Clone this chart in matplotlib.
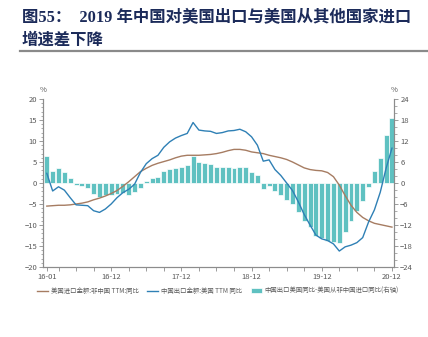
import matplotlib
matplotlib.use("Agg")
import matplotlib.pyplot as plt
import numpy as np

plt.rcParams['font.family'] = ['Noto Sans CJK SC', 'DejaVu Sans']

# monthly labels 16-01 .. 20-12
months = [f"{y % 100:02d}-{m:02d}" for y in range(2016, 2021) for m in range(1, 13)]
tick_labels = ["16-01", "16-12", "17-12", "18-12", "19-12", "20-12"]

# 美国进口金额:非中国 TTM:同比 (left axis, %)
us_import_ex_china = [
    -5.5, -5.4, -5.3, -5.3, -5.2, -5.0, -4.8, -4.5, -4.0, -3.6, -3.1, -2.5,
    -1.8, -0.8, 0.3, 1.5, 2.7, 3.5, 4.2, 4.7, 5.1, 5.5, 6.0, 6.4,
    6.6, 6.6, 6.6, 6.7, 6.8, 7.0, 7.3, 7.7, 8.0, 8.0, 7.8, 7.4,
    7.2, 7.0, 6.6, 6.3, 6.0, 5.6, 5.0, 4.3, 3.6, 3.2, 3.0, 2.9,
    2.5, 1.5, -0.5, -3.0, -5.3, -7.0, -8.2, -9.0, -9.6, -9.9, -10.2, -10.5,
]

# 中国出口金额:美国 TTM 同比 (left axis, %)
china_export_us = [
    2.3, -1.9, -0.9, -1.7, -3.5, -5.2, -5.3, -5.4, -6.6, -7.0, -6.2, -5.0,
    -3.5, -2.3, -1.5, -0.3, 2.5, 4.6, 5.8, 6.6, 8.5, 9.8, 10.7, 11.3,
    11.8, 14.4, 12.6, 12.4, 12.3, 11.8, 12.0, 12.4, 12.5, 12.8, 12.2, 11.0,
    9.0, 5.2, 5.5, 3.2, 1.8, 0.0, -1.8, -4.5, -7.5, -10.0, -12.4, -13.3,
    -13.7, -14.5, -16.2, -15.2, -14.8, -14.2, -13.0, -9.3, -6.4, -2.2, 3.5, 8.3,
]

# 中国出口美国同比-美国从非中国进口同比 (right axis, %)
growth_gap = [
    7.6, 3.3, 4.4, 3.2, 1.3, -0.7, -0.9, -1.3, -3.2, -3.9, -3.4, -3.4,
    -3.2, -2.9, -3.3, -2.6, -1.3, 0.7, 1.3, 1.7, 3.4, 4.1, 4.4, 4.6,
    5.1, 7.7, 5.9, 5.6, 5.4, 4.5, 4.5, 4.5, 4.4, 4.6, 4.5, 3.2,
    2.2, -1.8, -0.9, -2.2, -3.4, -4.8, -6.0, -8.4, -10.8, -12.7, -15.1, -15.8,
    -16.5, -16.8, -17.2, -14.1, -10.9, -7.9, -5.0, -1.0, 3.4, 7.2, 13.7, 18.5,
]

x = np.arange(1, len(months) + 1)
grey = '#595959'
spine_grey = '#8c8c8c'

fig = plt.figure(figsize=(4.28, 3.37), dpi=100)

# title
title_font = ['Liberation Serif', 'Noto Sans CJK SC']
fig.text(22 / 428, 1 - 17 / 337, '图55：  2019 年中国对美国出口与美国从其他国家进口',
         family=title_font, fontsize=11.8, fontweight='bold', color='#1c2b5a', va='center')
fig.text(22 / 428, 1 - 41 / 337, '增速差下降',
         family=title_font, fontsize=11.8, fontweight='bold', color='#1c2b5a', va='center')
fig.add_artist(plt.Line2D([20 / 428, 1], [1 - 51 / 337] * 2, color='#8a8a8a', lw=1.6))

ax = fig.add_axes([43.3 / 428, 1 - 267 / 337, (394 - 43.3) / 428, 168 / 337])
ax2 = ax.twinx()

bars = ax2.bar(x, growth_gap, width=0.85, color='#5fc1c1', edgecolor='white', linewidth=0.5,
               label='中国出口美国同比-美国从非中国进口同比(右轴)')
l1, = ax.plot(x, us_import_ex_china, color='#a67c62', lw=1.0, label='美国进口金额:非中国 TTM:同比')
l2, = ax.plot(x, china_export_us, color='#2f80b5', lw=1.0, label='中国出口金额:美国 TTM 同比')

ax.set_zorder(ax2.get_zorder() + 1)
ax.patch.set_visible(False)

ax.set_xlim(0.4, 60.35)
ax.set_ylim(-20, 20)
ax2.set_ylim(-24, 24)

ax.set_yticks(np.arange(-20, 21, 5))
ax.set_yticks(np.arange(-20, 21, 1), minor=True)
ax2.set_yticks(np.arange(-24, 25, 6))
ax2.set_yticks(np.arange(-24, 25, 2), minor=True)

tick_pos = [1] + list(range(3, 61, 3))
ax.set_xticks(tick_pos)
ax.set_xticklabels([months[p - 1] if months[p - 1] in tick_labels else '' for p in tick_pos])

for a in (ax, ax2):
    for s in ('top',):
        a.spines[s].set_visible(False)
    for s in ('left', 'right', 'bottom'):
        a.spines[s].set_color(spine_grey)
        a.spines[s].set_linewidth(0.8)
    a.tick_params(axis='both', which='major', labelsize=5.5, colors=spine_grey,
                  labelcolor=grey, length=3, width=0.6, pad=1.5)
    a.tick_params(axis='y', which='minor', length=1.8, width=0.5, colors=spine_grey)
ax.tick_params(axis='x', which='minor', bottom=False)

ax.text(0, 1.03, '%', transform=ax.transAxes, fontsize=5.5, color=grey, ha='center', va='bottom')
ax2.text(1, 1.03, '%', transform=ax2.transAxes, fontsize=5.5, color=grey, ha='center', va='bottom')

fig.legend(handles=[l1, l2, bars], loc='center', bbox_to_anchor=(218 / 428, 1 - 291 / 337),
           ncol=3, frameon=False, fontsize=4.6, handlelength=1.7, handleheight=0.9,
           columnspacing=1.3, handletextpad=0.5, labelcolor=grey)

fig.savefig('out.png', dpi=100)
